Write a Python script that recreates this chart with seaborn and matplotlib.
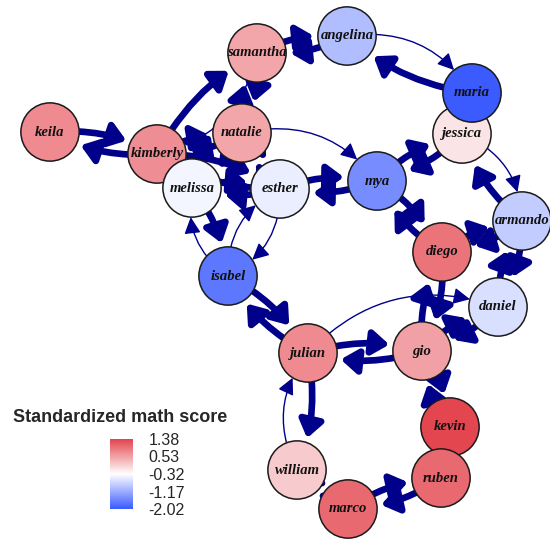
import matplotlib.pyplot as plt
import numpy as np
import pandas as pd
import seaborn as sns
from matplotlib.colors import LinearSegmentedColormap, TwoSlopeNorm
from matplotlib.patches import FancyArrowPatch

# Nós: nome, posição do layout e nota padronizada
nomes = ["keila", "kimberly", "melissa", "samantha", "natalie", "esther", "angelina",
         "jessica", "maria", "mya", "armando", "diego", "daniel", "isabel", "julian",
         "gio", "kevin", "ruben", "william", "marco"]
layout_x = [50, 157, 192, 257, 242, 280, 347, 462, 472, 377, 522, 442, 498, 228, 308,
            422, 450, 441, 297, 348]
layout_y = [132, 154, 188, 53, 133, 189, 36, 134, 93, 181, 221, 252, 307, 276, 353,
            351, 427, 478, 470, 509]
nota = [0.75, 0.72, -0.42, 0.5, 0.5, -0.5, -1.0, -0.08, -2.02, -1.5, -0.85, 0.95,
        -0.65, -1.72, 0.75, 0.55, 1.38, 1.05, 0.15, 1.05]

# Arestas dirigidas: origem, destino, peso (1 = fina, 2 = grossa)
origem = ["keila", "kimberly", "kimberly", "samantha", "samantha", "natalie", "samantha",
          "angelina", "angelina", "maria", "jessica", "mya", "jessica", "armando",
          "esther", "mya", "natalie", "mya", "diego", "armando", "diego", "armando",
          "daniel", "daniel", "gio", "diego", "gio", "julian", "julian", "gio",
          "isabel", "julian", "william", "julian", "william", "marco", "marco", "ruben",
          "gio", "kevin", "kevin", "ruben", "melissa", "isabel", "esther", "isabel",
          "kimberly", "natalie", "kimberly", "esther", "melissa", "esther", "natalie",
          "esther", "natalie", "kimberly"]
destino = ["kimberly", "keila", "samantha", "kimberly", "natalie", "samantha", "angelina",
           "samantha", "maria", "angelina", "mya", "jessica", "armando", "jessica",
           "mya", "esther", "mya", "diego", "mya", "diego", "armando", "daniel",
           "armando", "gio", "daniel", "gio", "diego", "daniel", "gio", "julian",
           "julian", "isabel", "julian", "william", "marco", "william", "ruben", "marco",
           "kevin", "gio", "ruben", "kevin", "isabel", "melissa", "isabel", "esther",
           "natalie", "kimberly", "esther", "kimberly", "esther", "melissa", "esther",
           "natalie", "melissa", "melissa"]
peso = [2, 2, 2, 1, 2, 2, 2, 2, 1, 2, 2, 2, 1, 2, 2, 2, 1, 2, 2, 2, 2, 2, 2, 2, 2, 2,
        2, 1, 2, 2, 2, 2, 1, 2, 2, 2, 2, 2, 2, 2, 2, 2, 2, 1, 1, 1, 2, 2, 2, 2, 2, 2,
        2, 2, 2, 2]

ticks_legenda = [1.38, 0.53, -0.32, -1.17, -2.02]

nos = pd.DataFrame({"nome": nomes, "x": layout_x, "y": layout_y, "nota": nota})
pos = {n: (x, y) for n, x, y in zip(nomes, layout_x, layout_y)}

cmap = LinearSegmentedColormap.from_list("nota", ["#3B5BFF", "#FFFFFF", "#E4464F"])
norm = TwoSlopeNorm(vmin=-2.02, vcenter=-0.32, vmax=1.38)

sns.set_style("white")
fig = plt.figure(figsize=(5.5, 5.42), dpi=100)
ax = fig.add_axes([0, 0, 1, 1])

# Arestas curvas com setas
for o, d, w in zip(origem, destino, peso):
    grossa = w == 2
    if grossa:
        estilo = "-|>,head_length=0.9,head_width=0.65"
        escala, lw, rad = 11, 4.8, -0.15
    else:
        estilo = "-|>,head_length=1.0,head_width=0.5"
        escala, lw, rad = 10, 1.0, -0.32
    seta = FancyArrowPatch(
        pos[o], pos[d], connectionstyle=f"arc3,rad={rad}", arrowstyle=estilo,
        mutation_scale=escala, lw=lw, color="#00008B",
        shrinkA=20, shrinkB=24 if grossa else 21, zorder=1)
    ax.add_patch(seta)

# Nós
sns.scatterplot(data=nos, x="x", y="y", hue="nota", palette=cmap, hue_norm=norm,
                s=1760, edgecolor="#1a1a1a", linewidth=1.1, legend=False, ax=ax, zorder=3)
ax.set_xlim(0, 550)
ax.set_ylim(542, 0)
ax.axis("off")

for n, x, y in zip(nomes, layout_x, layout_y):
    ax.text(x, y, n, ha="center", va="center", fontsize=10.5, fontweight="bold",
            fontstyle="italic", family="Liberation Serif", color="#111111", zorder=4)

# Legenda (barra de cores)
fig.text(13 / 550, 1 - 417 / 542, "Standardized math score", ha="left", va="center",
         fontsize=13, fontweight="bold", family="Liberation Sans")
cax = fig.add_axes([110 / 550, 1 - 509 / 542, 23 / 550, 70 / 542])
grad = np.linspace(-2.02, 1.38, 200).reshape(-1, 1)
cax.imshow(grad, aspect="auto", cmap=cmap, norm=norm, origin="lower",
           extent=[0, 1, -2.02, 1.38])
cax.set_xticks([])
cax.yaxis.tick_right()
cax.set_yticks(ticks_legenda)
cax.set_yticklabels([f"{t:.2f}" for t in ticks_legenda], family="Liberation Sans",
                    fontsize=11.5)
cax.tick_params(axis="y", length=0, pad=11)
for s in cax.spines.values():
    s.set_visible(False)

fig.savefig("out.png", dpi=100)
